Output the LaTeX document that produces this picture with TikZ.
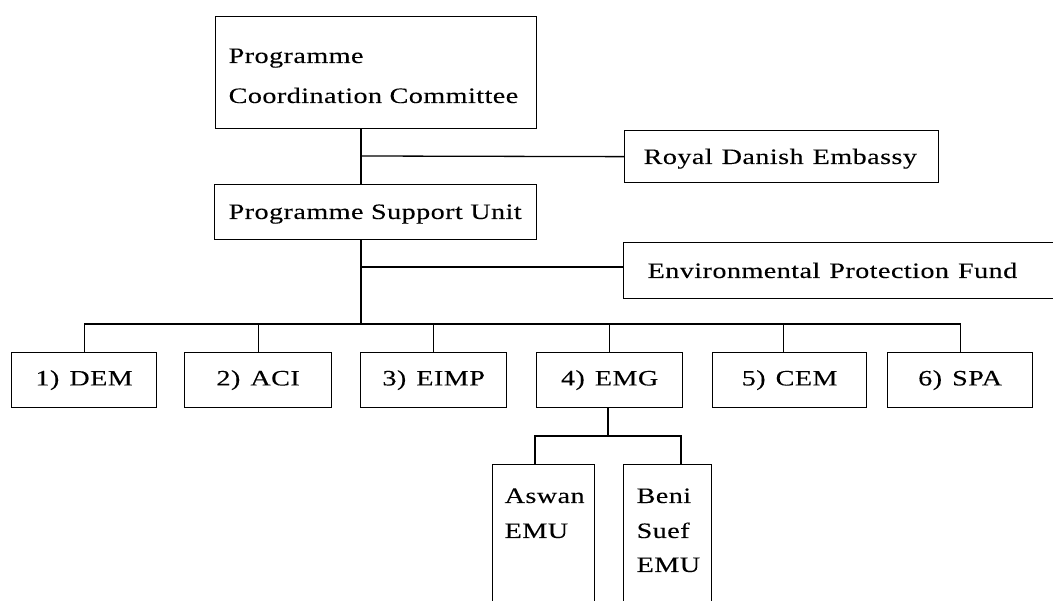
\documentclass[tikz,border=0pt]{standalone}
\usepackage{fontspec}
\setmainfont{Liberation Serif}[FakeStretch=1.28,LetterSpace=2,FakeBold=0.12]
\usetikzlibrary{calc}
\newcommand\lblfont{\fontsize{22pt}{26pt}\selectfont}
\newcommand\numgap{\hspace{10pt}}
\newcommand\wordgap{\hspace{9pt}}
\begin{document}
\begin{tikzpicture}[x=1pt, y=-1pt, line width=1.3pt,
  frame/.style={draw, anchor=north west, inner sep=0pt},
  unit/.style={frame, minimum height=55pt, font=\lblfont},
  lbl/.style={anchor=base west, inner sep=0pt, font=\lblfont}]
\useasboundingbox (0,0) rectangle (1053,601);
\clip (0,0) rectangle (1053,601);

% top level boxes
\node[frame, minimum width=321pt, minimum height=112pt] (pcc) at (215,16) {};
\node[lbl] (pcct1) at (228,63) {Programme};
\node[lbl] (pcct2) at (228,103) {Coordination Committee};

\node[frame, minimum width=314pt, minimum height=52pt] (rde) at (624,130) {};
\node[lbl] (rdet) at (643,164) {Royal\wordgap Danish\wordgap Embassy};

\node[frame, minimum width=322pt, minimum height=55pt] (psu) at (214,184) {};
\node[lbl] (psut) at (228,219) {Programme Support Unit};

\node[frame, minimum width=450pt, minimum height=56pt] (epf) at (623,242) {};
\node[lbl] (epft) at (647,278) {Environmental\wordgap Protection\wordgap Fund};

% programme components
\node[unit, minimum width=145pt] (dem)  at (11,352)  {1)\numgap DEM};
\node[unit, minimum width=147pt] (aci)  at (184,352) {2)\numgap ACI};
\node[unit, minimum width=146pt] (eimp) at (360,352) {3)\numgap EIMP};
\node[unit, minimum width=146pt] (emg)  at (536,352) {4)\numgap EMG};
\node[unit, minimum width=154pt] (cem)  at (712,352) {5)\numgap CEM};
\node[unit, minimum width=145pt] (spa)  at (887,352) {6)\numgap SPA};

% EMG units
\node[frame, minimum width=102pt, minimum height=160pt] (asw) at (492,464) {};
\node[lbl] (aswt1) at (504,503) {Aswan};
\node[lbl] (aswt2) at (504,538) {EMU};
\node[frame, minimum width=88pt, minimum height=160pt] (ben) at (623,464) {};
\node[lbl] (bent1) at (636,503) {Beni};
\node[lbl] (bent2) at (636,538) {Suef};
\node[lbl] (bent3) at (636,572) {EMU};

% junctions
\coordinate (j1) at (361,156);
\coordinate (j2) at (361,267);
\coordinate (bus) at (361,324);
\coordinate (sub) at (608,436);
\coordinate (aswtop) at ($(asw.north west)+(43,0)$);
\coordinate (bentop) at ($(ben.north west)+(58,0)$);
\coordinate (cemtop) at ($(cem.north)+(-6,0)$);

% connectors
\draw (j1 |- pcc.south) -- (j1 |- psu.north);
\draw (j1) -- (rde.west);
\draw (j1 |- psu.south) -- (bus);
\draw (j2) -- (j2 -| epf.west);
\draw (dem.north) |- (spa.north |- bus) -- (spa.north);
\foreach \n in {aci,eimp,emg} \draw (\n.north) -- (\n.north |- bus);
\draw (cemtop) -- (cemtop |- bus);
\draw (sub |- emg.south) -- (sub);
\draw (aswtop) |- (bentop |- sub) -- (bentop);
\end{tikzpicture}
\end{document}
